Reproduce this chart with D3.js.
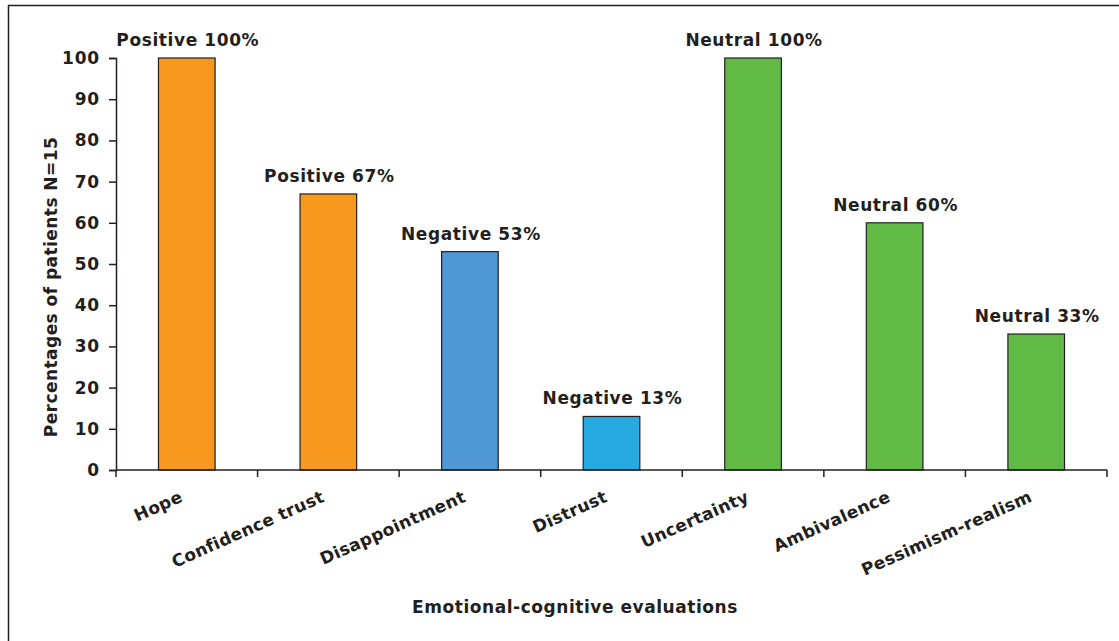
<!DOCTYPE html>
<html>
<head>
<meta charset="utf-8">
<script src="https://cdn.jsdelivr.net/npm/d3@7"></script>
<style>
  body { margin: 0; background: #fff; }
  text { font-family: "DejaVu Sans", Verdana, sans-serif; font-weight: bold; fill: #231f20; }
  .axis path, .axis line { stroke: #231f20; stroke-width: 1.5; }
</style>
</head>
<body>
<div id="chart"></div>
<script>
var categories = ["Hope", "Confidence trust", "Disappointment", "Distrust", "Uncertainty", "Ambivalence", "Pessimism-realism"];
var values = [100, 67, 53, 13, 100, 60, 33];
var valence = ["Positive", "Positive", "Negative", "Negative", "Neutral", "Neutral", "Neutral"];
var barColors = ["#f7991f", "#f7991f", "#4f98d3", "#27a9e1", "#62ba46", "#62ba46", "#62ba46"];
var yTicks = [0, 10, 20, 30, 40, 50, 60, 70, 80, 90, 100];

var width = 1119, height = 641;
var margin = {left: 116, right: 12, top: 58, bottom: 171};

var svg = d3.select("#chart").append("svg")
  .attr("width", width)
  .attr("height", height);

// frame
svg.append("rect")
  .attr("x", 8.5).attr("y", 5.5)
  .attr("width", width + 20).attr("height", height + 20)
  .attr("fill", "none").attr("stroke", "#231f20").attr("stroke-width", 1.5);

var x = d3.scaleBand()
  .domain(categories)
  .range([margin.left, width - margin.right])
  .paddingInner(0.6).paddingOuter(0.3);

var y = d3.scaleLinear()
  .domain([0, 100])
  .range([height - margin.bottom, margin.top]);

// bars
svg.append("g").selectAll("rect")
  .data(categories)
  .enter().append("rect")
  .attr("x", function(d) { return x(d); })
  .attr("y", function(d, i) { return y(values[i]); })
  .attr("width", x.bandwidth())
  .attr("height", function(d, i) { return y(0) - y(values[i]); })
  .attr("fill", function(d, i) { return barColors[i]; })
  .attr("stroke", "#231f20").attr("stroke-width", 1.2);

// bar labels
svg.append("g").selectAll("text")
  .data(categories)
  .enter().append("text")
  .attr("x", function(d) { return x(d) + x.bandwidth() / 2 + 1; })
  .attr("y", function(d, i) { return y(values[i]) - 12; })
  .attr("text-anchor", "middle")
  .style("font-size", "17px").style("letter-spacing", "0.6px")
  .text(function(d, i) { return valence[i] + " " + values[i] + "%"; });

// y axis
var yAxis = svg.append("g").attr("class", "axis")
  .attr("transform", "translate(" + margin.left + ",0)")
  .call(d3.axisLeft(y).tickValues(yTicks).tickSize(7).tickPadding(9));
yAxis.selectAll("text").style("font-size", "17px").style("letter-spacing", "0.8px");

// x axis with ticks between categories
var step = x.step();
var bounds = d3.range(categories.length + 1).map(function(i) { return margin.left + i * step; });
var xg = svg.append("g").attr("class", "axis");
xg.append("line")
  .attr("x1", margin.left).attr("x2", width - margin.right)
  .attr("y1", y(0)).attr("y2", y(0));
xg.selectAll(".tk").data(bounds).enter().append("line")
  .attr("x1", function(d) { return d; }).attr("x2", function(d) { return d; })
  .attr("y1", y(0)).attr("y2", y(0) + 7);

svg.append("g").selectAll("text")
  .data(categories)
  .enter().append("text")
  .attr("text-anchor", "end")
  .style("font-size", "17px").style("letter-spacing", "0.3px")
  .attr("transform", function(d) {
    return "translate(" + (x(d) + x.bandwidth() / 2 - 3) + "," + (y(0) + 31) + ") rotate(-24)";
  })
  .text(function(d) { return d; });

// axis titles
svg.append("text")
  .attr("transform", "translate(57,287) rotate(-90)")
  .attr("text-anchor", "middle")
  .style("font-size", "17px").style("letter-spacing", "0.45px")
  .text("Percentages of patients N=15");

svg.append("text")
  .attr("x", 575).attr("y", 613)
  .attr("text-anchor", "middle")
  .style("font-size", "17px").style("letter-spacing", "0.55px")
  .text("Emotional-cognitive evaluations");
</script>
</body>
</html>
